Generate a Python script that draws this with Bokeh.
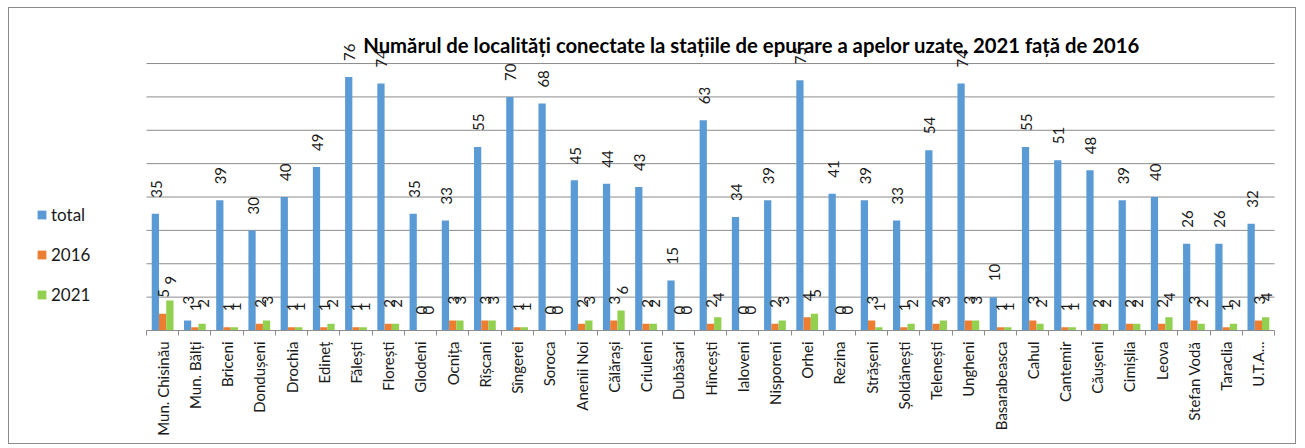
import numpy as np
from bokeh.plotting import figure
from bokeh.models import (ColumnDataSource, Range1d, FixedTicker, Legend, LegendItem, Label)
from bokeh.core.properties import value
from bokeh.embed import file_html
from bokeh.resources import INLINE

categories = ["Mun. Chisinău", "Mun. Bălți", "Briceni", "Dondușeni", "Drochia", "Edineț",
              "Fălești", "Florești", "Glodeni", "Ocnița", "Rîșcani", "Sîngerei", "Soroca",
              "Anenii Noi", "Călărași", "Criuleni", "Dubăsari", "Hîncești", "Ialoveni",
              "Nisporeni", "Orhei", "Rezina", "Strășeni", "Șoldănești", "Telenești", "Ungheni",
              "Basarabeasca", "Cahul", "Cantemir", "Căușeni", "Cimișlia", "Leova",
              "Stefan Vodă", "Taraclia", "U.T.A..."]
total = [35, 3, 39, 30, 40, 49, 76, 74, 35, 33, 55, 70, 68, 45, 44, 43, 15, 63, 34, 39,
         75, 41, 39, 33, 54, 74, 10, 55, 51, 48, 39, 40, 26, 26, 32]
y2016 = [5, 1, 1, 2, 1, 1, 1, 2, 0, 3, 3, 1, 0, 2, 3, 2, 0, 2, 0, 2,
         4, 0, 3, 1, 2, 3, 1, 3, 1, 2, 2, 2, 3, 1, 3]
y2021 = [9, 2, 1, 3, 1, 2, 1, 2, 0, 3, 3, 1, 0, 3, 6, 2, 0, 4, 0, 3,
         5, 0, 1, 2, 3, 3, 1, 2, 1, 2, 2, 4, 2, 2, 4]
series_names = ["total", "2016", "2021"]
series_colors = ["#5B9BD5", "#ED7D31", "#92D050"]
title_text = "Numărul de localități conectate la stațiile de epurare a apelor uzate, 2021 față de 2016"
grid_ticks = [10, 20, 30, 40, 50, 60, 70, 80]

n = len(categories)
xs = np.arange(n)
lo, hi = -0.5, n - 0.5
unit_px = 1128.0 / n          # pixel width of one category
x_start = lo - 137.0 / unit_px  # leave room for the legend at the left
x_end = hi + 23.0 / unit_px

p = figure(width=1288, height=437, output_backend="svg", toolbar_location=None,
           x_range=Range1d(x_start, x_end), y_range=Range1d(0, 89.9),
           min_border_left=0, min_border_right=0, min_border_top=22, min_border_bottom=115)
p.styles = {"border": "1px solid #8a8a8a", "margin-left": "8px", "margin-top": "7px"}
p.outline_line_color = None
p.background_fill_color = "white"
p.border_fill_color = "white"
p.xgrid.visible = False
p.ygrid.visible = False
p.yaxis.visible = False

# horizontal grid lines, limited to the category span
p.segment(x0=[lo] * len(grid_ticks), x1=[hi] * len(grid_ticks), y0=grid_ticks, y1=grid_ticks,
          line_color="#8c8c8c", line_width=1)

bw = 0.225
offsets = [-bw, 0.0, bw]
items = []
for name, vals, col, off in zip(series_names, [total, y2016, y2021], series_colors, offsets):
    src = ColumnDataSource(dict(x=xs + off, top=vals, lab=[str(v) for v in vals]))
    r = p.vbar(x="x", top="top", width=bw, bottom=0, source=src, fill_color=col, line_color=None)
    p.text(x="x", y="top", text="lab", source=src, angle=np.pi / 2, text_align="left",
           text_baseline="middle", y_offset=-16, x_offset=1, text_font=value("Lato"),
           text_font_size="15px", text_color="#1a1a1a")
    items.append(LegendItem(label=name, renderers=[r]))

legend = Legend(items=items, location=(27, 25), orientation="vertical",
                glyph_width=11, glyph_height=11, label_height=20, spacing=19,
                label_standoff=4, padding=0, margin=0, border_line_color=None,
                background_fill_alpha=0, label_text_font="Lato",
                label_text_font_size="17px", label_text_color="#1a1a1a")
p.add_layout(legend, "center")

ax = p.xaxis[0]
ax.bounds = (lo, hi)
ax.ticker = FixedTicker(ticks=list(range(n)), minor_ticks=[i - 0.5 for i in range(n + 1)])
ax.major_label_overrides = {i: c for i, c in enumerate(categories)}
ax.major_label_orientation = np.pi / 2
ax.major_tick_line_color = None
ax.minor_tick_line_color = "#8c8c8c"
ax.minor_tick_in = 0
ax.minor_tick_out = 5
ax.axis_line_color = "#8c8c8c"
ax.major_label_standoff = 5
ax.major_label_text_font = "Lato"
ax.major_label_text_font_size = "15px"
ax.major_label_text_color = "#1a1a1a"

title = Label(x=742, y=286, x_units="screen", y_units="screen", text=title_text,
              text_align="center", text_baseline="middle", text_font="Lato",
              text_font_style="bold", text_font_size="20.3px", text_color="#000000")
p.add_layout(title)

open("out.html", "w").write(file_html(p, INLINE))
